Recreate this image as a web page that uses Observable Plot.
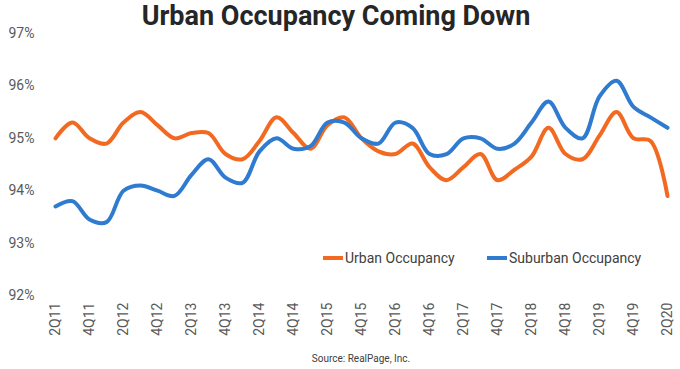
<!DOCTYPE html>
<html>
<head>
<meta charset="utf-8">
<script src="https://cdn.jsdelivr.net/npm/d3@7"></script>
<script src="https://cdn.jsdelivr.net/npm/@observablehq/plot@0.6"></script>
<style>
  html, body { margin: 0; padding: 0; background: #fff; }
  #wrap { position: relative; width: 680px; height: 369px; overflow: hidden; font-family: Roboto, sans-serif; }
  #title { position: absolute; top: 3px; left: 0; width: 672px; text-align: center; font: bold 27px/1 Roboto, sans-serif; color: #262626; z-index: 2; }
  #chart { position: absolute; top: 25px; left: 0; z-index: 1; }
  #caption { position: absolute; top: 354px; left: 0; width: 722px; text-align: center; font: 10px/1 Roboto, sans-serif; color: #404040; z-index: 2; }
  .leg { position: absolute; top: 249px; font: 14px/18px Roboto, sans-serif; color: #404040; white-space: nowrap; z-index: 2; }
  .sw { display: inline-block; width: 20px; height: 4px; vertical-align: middle; margin-right: 2px; position: relative; top: -1px; }
</style>
</head>
<body>
<div id="wrap">
  <div id="chart"></div>
  <div id="title">Urban Occupancy Coming Down</div>
  <div class="leg" style="left:323px"><span class="sw" style="background:#F26A21"></span>Urban Occupancy</div>
  <div class="leg" style="left:487px"><span class="sw" style="background:#2F7BCF"></span>Suburban Occupancy</div>
  <div id="caption">Source: RealPage, Inc.</div>
</div>
<script>
const quarters = ["2Q11","3Q11","4Q11","1Q12","2Q12","3Q12","4Q12","1Q13","2Q13","3Q13","4Q13","1Q14","2Q14","3Q14","4Q14","1Q15","2Q15","3Q15","4Q15","1Q16","2Q16","3Q16","4Q16","1Q17","2Q17","3Q17","4Q17","1Q18","2Q18","3Q18","4Q18","1Q19","2Q19","3Q19","4Q19","1Q20","2Q20"];
const urban = [95.0,95.3,95.0,94.9,95.3,95.5,95.25,95.0,95.1,95.1,94.7,94.6,94.95,95.4,95.1,94.8,95.25,95.4,95.0,94.75,94.7,94.9,94.45,94.2,94.45,94.7,94.2,94.4,94.65,95.2,94.7,94.6,95.05,95.5,95.0,94.95,93.9];
const suburban = [93.7,93.8,93.45,93.4,94.0,94.1,94.0,93.9,94.3,94.6,94.25,94.15,94.75,95.0,94.8,94.85,95.3,95.3,95.0,94.9,95.3,95.2,94.7,94.7,95.0,95.0,94.8,94.9,95.3,95.7,95.2,95.0,95.8,96.1,95.6,95.4,95.2];
const yTicks = [92,93,94,95,96,97];
const xTicks = quarters.filter((d, i) => i % 2 === 0);

const series = [
  {name: "Urban Occupancy", values: urban, color: "#F26A21"},
  {name: "Suburban Occupancy", values: suburban, color: "#2F7BCF"}
];
const rows = series.flatMap(s => s.values.map((v, i) => ({q: quarters[i], v, s: s.name})));

const chart = Plot.plot({
  width: 680,
  height: 318,
  marginTop: 8,
  marginBottom: 48,
  marginLeft: 55,
  marginRight: 13,
  style: {fontFamily: "Roboto, sans-serif", fontSize: "14px", color: "#595959", background: "transparent", overflow: "visible"},
  x: {type: "point", domain: quarters, padding: 0},
  y: {domain: [92, 97]},
  color: {domain: series.map(s => s.name), range: series.map(s => s.color)},
  marks: [
    Plot.axisY({ticks: yTicks, tickFormat: d => d + "%", tickSize: 0, tickPadding: 21, label: null, fontSize: 14}),
    Plot.axisX({ticks: xTicks, tickSize: 0, tickPadding: 7, tickRotate: -90, label: null, fontSize: 14}),
    Plot.line(rows, {x: "q", y: "v", z: "s", stroke: "s", strokeWidth: 4, curve: "catmull-rom"})
  ]
});
document.getElementById("chart").appendChild(chart);
</script>
</body>
</html>
